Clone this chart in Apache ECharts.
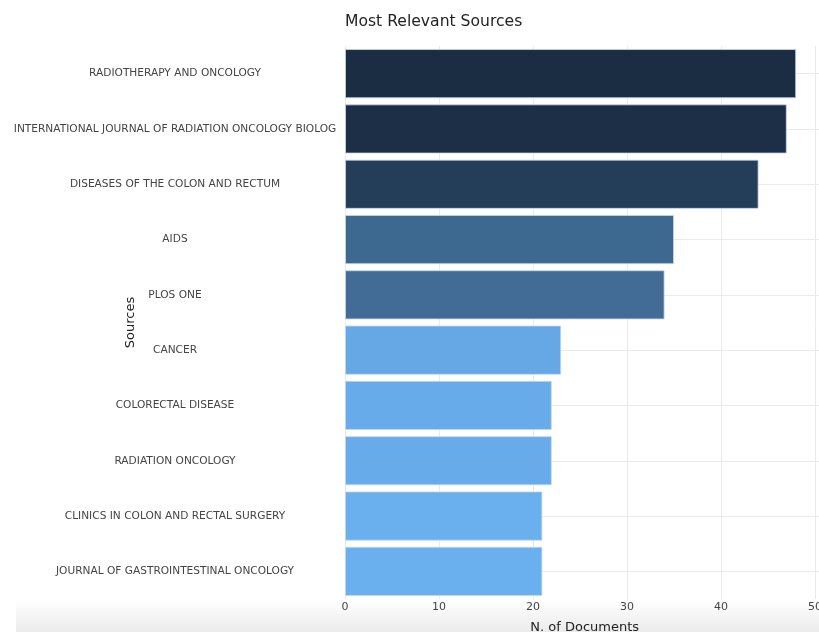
<!DOCTYPE html>
<html>
<head>
<meta charset="utf-8">
<script src="https://cdn.jsdelivr.net/npm/echarts@6/dist/echarts.min.js"></script>
<style>html,body{margin:0;padding:0;background:#fff;}#c{width:819px;height:632px;}</style>
</head>
<body>
<div id="c"></div>
<script>
const sources = [
  "RADIOTHERAPY AND ONCOLOGY",
  "INTERNATIONAL JOURNAL OF RADIATION ONCOLOGY BIOLOG",
  "DISEASES OF THE COLON AND RECTUM",
  "AIDS",
  "PLOS ONE",
  "CANCER",
  "COLORECTAL DISEASE",
  "RADIATION ONCOLOGY",
  "CLINICS IN COLON AND RECTAL SURGERY",
  "JOURNAL OF GASTROINTESTINAL ONCOLOGY"
];
const documents = [48, 47, 44, 35, 34, 23, 22, 22, 21, 21];
const barColors = ["#1b2d42", "#1c2f46", "#243d58", "#3d6890", "#426c95", "#66a8e6", "#68abea", "#68abea", "#6aafee", "#6aafee"];
const xTicks = [0, 10, 20, 30, 40, 50];

const chart = echarts.init(document.getElementById('c'));
chart.setOption({
  animation: false,
  backgroundColor: '#ffffff',
  textStyle: { fontFamily: 'DejaVu Sans' },
  title: {
    text: 'Most Relevant Sources',
    left: 345, top: 14, padding: 0,
    textStyle: { fontFamily: 'DejaVu Sans', fontSize: 15.6, fontWeight: 'normal', color: '#222' }
  },
  graphic: [{
    type: 'rect', z: -10, silent: true,
    shape: { x: 16, y: 600, width: 803, height: 32 },
    style: { fill: new echarts.graphic.LinearGradient(0, 0, 0, 1, [
      { offset: 0, color: '#ffffff' }, { offset: 1, color: '#ebebeb' }]) }
  }],
  grid: { left: 345, top: 46, width: 479.4, height: 553, containLabel: false, outerBoundsMode: 'none' },
  xAxis: {
    type: 'value', min: 0, max: 51, interval: 10,
    name: 'N. of Documents', nameLocation: 'middle', nameGap: 22,
    nameMoveOverlap: false,
    nameTextStyle: { fontFamily: 'DejaVu Sans', fontSize: 13, color: '#222' },
    axisLine: { show: false }, axisTick: { show: false },
    axisLabel: {
      fontFamily: 'DejaVu Sans', fontSize: 11, color: '#444', margin: 3,
      showMaxLabel: false,
      formatter: v => (xTicks.indexOf(v) >= 0 ? String(v) : '')
    },
    splitLine: { show: true, lineStyle: { color: '#ebebeb', width: 1 } }
  },
  yAxis: {
    type: 'category', inverse: true, data: sources,
    name: 'Sources', nameLocation: 'middle', nameGap: 208, nameRotate: 90,
    nameMoveOverlap: false,
    nameTextStyle: { fontFamily: 'DejaVu Sans', fontSize: 13, color: '#222' },
    axisLine: { show: false },
    axisTick: { show: false, alignWithLabel: true },
    axisLabel: { fontFamily: 'DejaVu Sans', fontSize: 10.6, color: '#444', align: 'center', margin: 170, padding: [2, 0, 0, 0] },
    splitLine: { show: true, alignWithLabel: true, lineStyle: { color: '#ebebeb', width: 1 } }
  },
  series: [{
    type: 'bar',
    data: documents.map((v, i) => ({ value: v, itemStyle: { color: barColors[i] } })),
    barCategoryGap: '11%',
    itemStyle: { borderColor: 'rgba(200,215,230,0.8)', borderWidth: 1 }
  }]
});
</script>
</body>
</html>
